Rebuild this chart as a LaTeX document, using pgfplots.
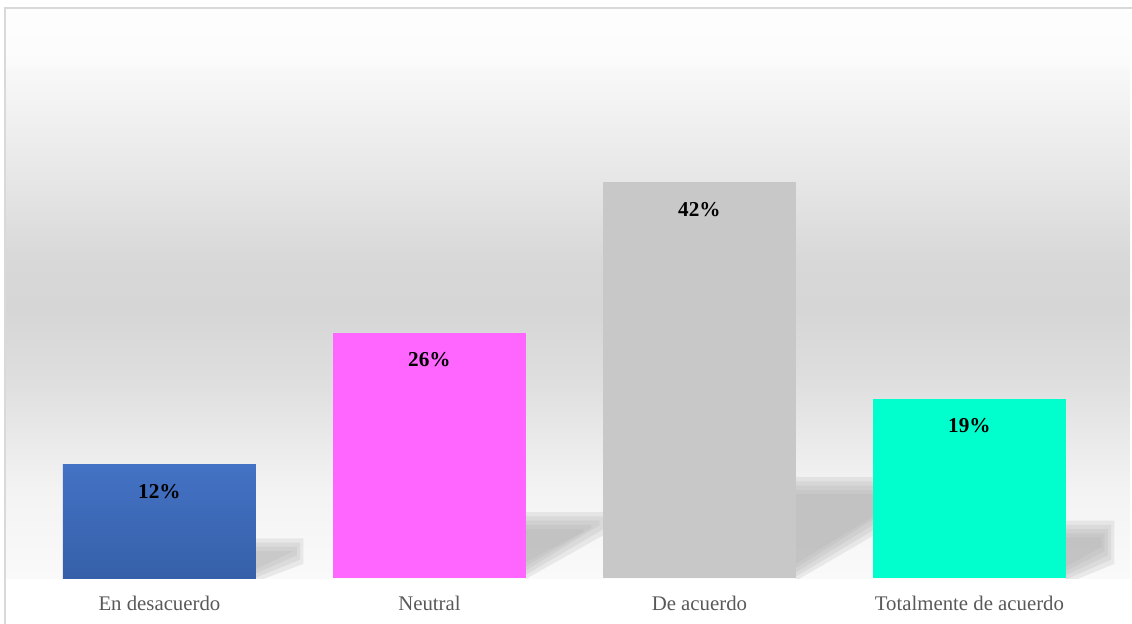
\documentclass[border=0pt]{standalone}
\usepackage{fontspec}
\setmainfont{Liberation Serif}
\usepackage{pgfplots}
\pgfplotsset{compat=1.18}
\definecolor{barblueT}{HTML}{4472C4}
\definecolor{barblueB}{HTML}{3560A9}
\definecolor{barpink}{HTML}{FF66FF}
\definecolor{bargray}{HTML}{C8C8C8}
\definecolor{barcyan}{HTML}{00FFCC}
\definecolor{shadowc}{HTML}{B0B0B0}
\definecolor{framec}{HTML}{D9D9D9}
\definecolor{labelc}{HTML}{595959}
\pgfdeclareverticalshading{wall}{100bp}{
 rgb(0bp)=(0.98,0.98,0.98);
 rgb(25bp)=(0.98,0.98,0.98);
 rgb(32.7bp)=(0.953,0.953,0.953);
 rgb(37.1bp)=(0.918,0.918,0.918);
 rgb(42.4bp)=(0.871,0.871,0.871);
 rgb(48.5bp)=(0.839,0.839,0.839);
 rgb(52.9bp)=(0.847,0.847,0.847);
 rgb(60.8bp)=(0.91,0.91,0.91);
 rgb(69.6bp)=(0.972,0.972,0.972);
 rgb(70.2bp)=(0.985,0.985,0.985);
 rgb(75bp)=(0.995,0.995,0.995);
 rgb(100bp)=(0.995,0.995,0.995)}
\pgfplotsset{
  mybar/.style={ybar, bar width=96.5pt, bar shift=0pt, draw=none, point meta=y,
    nodes near coords={\pgfmathprintnumber[assume math mode=true]{\pgfplotspointmeta}\%},
    every node near coord/.append style={anchor=center, yshift=-13.5pt,
      font=\bfseries\fontsize{10.6}{12}\selectfont, text=black}},
  sh/.style={draw=none, fill=shadowc, fill opacity=0.22, forget plot},
}
\begin{document}
\begin{tikzpicture}
\path[use as bounding box] (-2.5pt,-22.5pt) rectangle (563.5pt,289pt);
\clip (-2.5pt,-22.5pt) rectangle (563.5pt,289pt);
\begin{axis}[
  at={(0pt,0pt)}, anchor=south west,
  scale only axis, width=562.5pt, height=285pt,
  xmin=-0.572, xmax=3.5947, ymin=0, ymax=60.5,
  axis line style={draw=none}, major tick length=0pt,
  ytick=\empty, xtick={0,1,2,3},
  xticklabels={En desacuerdo, Neutral, De acuerdo, Totalmente de acuerdo},
  xticklabel style={font=\fontsize{10.4}{12}\selectfont, text=labelc, anchor=center, yshift=-12.5pt},
  axis background/.style={shading=wall},
]
% soft floor shadows behind the bars (layered for a blurred edge)
\addplot[sh] coordinates {(0.357,-0.4) (0.357,4.2) (0.533,4.2) (0.533,1.5)} -- cycle;
\addplot[sh] coordinates {(0.357,0.05) (0.357,3.75) (0.521,3.75) (0.521,1.95)} -- cycle;
\addplot[sh] coordinates {(0.357,0.5) (0.357,3.3) (0.509,3.3) (0.509,2.4)} -- cycle;
\addplot[sh] coordinates {(0.357,0.95) (0.357,2.85) (0.497,2.85)} -- cycle;
\addplot[sh] coordinates {(1.357,-0.1) (1.357,7.0) (1.654,7.0) (1.654,4.7)} -- cycle;
\addplot[sh] coordinates {(1.357,0.35) (1.357,6.55) (1.642,6.55) (1.642,5.15)} -- cycle;
\addplot[sh] coordinates {(1.357,0.8) (1.357,6.1) (1.63,6.1) (1.63,5.6)} -- cycle;
\addplot[sh] coordinates {(1.357,1.25) (1.357,5.65) (1.60,5.65) (1.60,5.3)} -- cycle;
\addplot[sh] coordinates {(1.357,1.7) (1.357,5.2) (1.57,5.2) (1.57,4.9)} -- cycle;
\addplot[sh] coordinates {(2.357,-0.3) (2.357,10.7) (2.824,10.7) (2.824,7.5)} -- cycle;
\addplot[sh] coordinates {(2.357,0.15) (2.357,10.25) (2.812,10.25) (2.812,7.95)} -- cycle;
\addplot[sh] coordinates {(2.357,0.6) (2.357,9.8) (2.80,9.8) (2.80,8.4)} -- cycle;
\addplot[sh] coordinates {(2.357,1.05) (2.357,9.35) (2.788,9.35) (2.788,8.85)} -- cycle;
\addplot[sh] coordinates {(2.357,1.5) (2.357,8.9) (2.776,8.9)} -- cycle;
\addplot[sh] coordinates {(3.357,-0.6) (3.357,6.1) (3.537,6.1) (3.537,1.5)} -- cycle;
\addplot[sh] coordinates {(3.357,-0.15) (3.357,5.65) (3.525,5.65) (3.525,1.95)} -- cycle;
\addplot[sh] coordinates {(3.357,0.3) (3.357,5.2) (3.513,5.2) (3.513,2.4)} -- cycle;
\addplot[sh] coordinates {(3.357,0.75) (3.357,4.75) (3.501,4.75) (3.501,2.85)} -- cycle;
\addplot[sh] coordinates {(3.357,1.2) (3.357,4.3) (3.489,4.3) (3.489,3.3)} -- cycle;
% bars
\addplot[mybar, top color=barblueT, bottom color=barblueB] coordinates {(0,12)};
\addplot[mybar, fill=barpink] coordinates {(1,26)};
\addplot[mybar, fill=bargray] coordinates {(2,42)};
\addplot[mybar, fill=barcyan] coordinates {(3,19)};
\end{axis}
\draw[framec, line width=1pt] (0pt,-40pt) -- (0pt,285pt) -- (570pt,285pt);
\end{tikzpicture}
\end{document}
